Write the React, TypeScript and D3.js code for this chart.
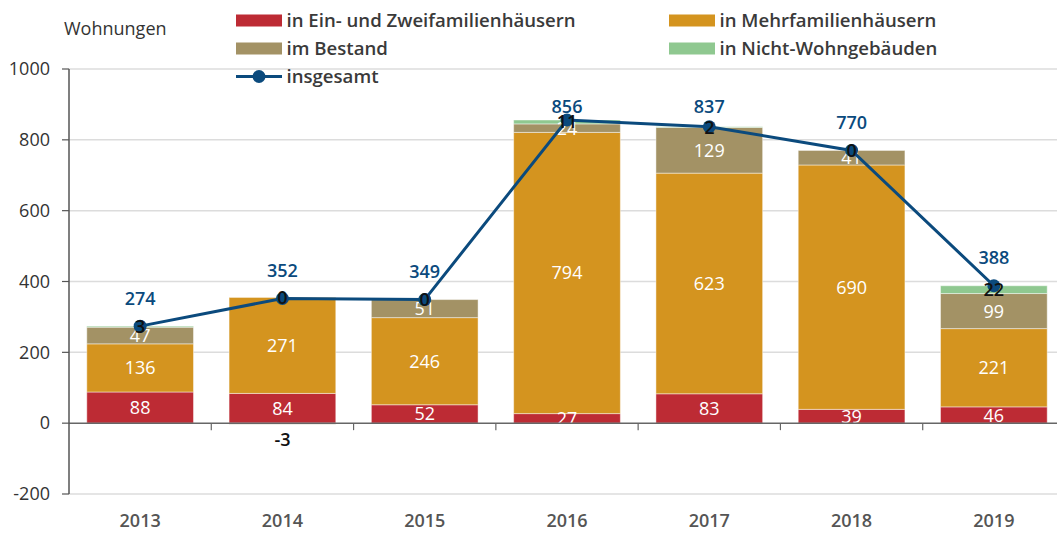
import React from "react";
import * as d3 from "d3";

const years = ["2013", "2014", "2015", "2016", "2017", "2018", "2019"];
const einZwei = [88, 84, 52, 27, 83, 39, 46];
const mehr = [136, 271, 246, 794, 623, 690, 221];
const bestand = [47, -3, 51, 24, 129, 41, 99];
const nichtWohn = [3, 0, 0, 11, 2, 0, 22];
const insgesamt = [274, 352, 349, 856, 837, 770, 388];
const yTicks = [-200, 0, 200, 400, 600, 800, 1000];

const seriesKeys = ["einZwei", "mehr", "bestand", "nichtWohn"];
const seriesNames = [
  "in Ein- und Zweifamilienhäusern",
  "in Mehrfamilienhäusern",
  "im Bestand",
  "in Nicht-Wohngebäuden",
];
const colors = ["#bd2b34", "#d4941f", "#a39265", "#8fc890"];
const lineColor = "#0b4a7d";
const font = "'Open Sans', 'DejaVu Sans', sans-serif";

const W = 1057;
const H = 534;
const left = 69;
const x = d3.scaleBand<string>().domain(years).range([left, 1065]).paddingInner(0.25).paddingOuter(0.125);
const y = d3.scaleLinear().domain([-200, 1000]).range([494, 69]);

export default function App() {
  const rows = years.map((yr, i) => ({
    year: yr,
    einZwei: einZwei[i],
    mehr: mehr[i],
    bestand: bestand[i],
    nichtWohn: nichtWohn[i],
  }));
  const stacked = d3
    .stack<any>()
    .keys(seriesKeys)
    .offset(d3.stackOffsetDiverging)(rows);

  const cx = (yr: string) => (x(yr) as number) + x.bandwidth() / 2;
  const line = d3
    .line<number>()
    .x((_, i) => cx(years[i]))
    .y((v) => y(v));

  // top of the positive part of the stack (below the green segment)
  const posBase = rows.map((r) =>
    [r.einZwei, r.mehr, r.bestand].reduce((a, v) => a + Math.max(0, v), 0)
  );

  const legendItems = [
    { i: 0, lx: 236, ly: 20.5 },
    { i: 2, lx: 236, ly: 48.5 },
    { i: 1, lx: 669, ly: 20.5 },
    { i: 3, lx: 669, ly: 48.5 },
  ];

  return (
    <svg
      width={W}
      height={H}
      style={{ position: "absolute", left: 0, top: 0, background: "#fff" }}
      fontFamily={font}
    >
      {/* grid */}
      {yTicks.map((t) =>
        t === 0 ? null : (
          <line key={t} x1={left} x2={W} y1={y(t)} y2={y(t)} stroke="#dcdcdc" strokeWidth={1.5} />
        )
      )}
      {yTicks.map((t) => (
        <g key={"t" + t}>
          <line x1={62} x2={left} y1={y(t)} y2={y(t)} stroke="#555" strokeWidth={1.2} />
          <text x={50} y={y(t)} dy="0.35em" textAnchor="end" fontSize={18} fill="#333">
            {t}
          </text>
        </g>
      ))}
      <text x={64} y={35} fontSize={18} fill="#333">
        Wohnungen
      </text>

      {/* bars */}
      {stacked.map((s, si) =>
        s.map((d, i) => (
          <rect
            key={si + "-" + i}
            x={x(years[i])}
            width={x.bandwidth()}
            y={y(Math.max(d[0], d[1]))}
            height={Math.abs(y(d[0]) - y(d[1]))}
            fill={colors[si]}
            stroke="rgba(255,255,255,0.45)"
            strokeWidth={1}
          />
        ))
      )}

      {/* segment labels (non-green) */}
      {stacked.slice(0, 3).map((s, si) =>
        s.map((d, i) => {
          const v = (rows[i] as any)[seriesKeys[si]] as number;
          let ly = y((d[0] + d[1]) / 2);
          let fill = "#fff";
          let weight = 500;
          if (v < 0) {
            ly = y(Math.min(d[0], d[1])) + 15;
            fill = "#111";
            weight = 600;
          }
          return (
            <text
              key={"l" + si + "-" + i}
              x={cx(years[i])}
              y={ly}
              dy="0.36em"
              textAnchor="middle"
              fontSize={18}
              fontWeight={weight}
              fill={fill}
            >
              {v}
            </text>
          );
        })
      )}

      {/* zero axis */}
      <line x1={left} x2={W} y1={y(0)} y2={y(0)} stroke="#666" strokeWidth={1.5} />
      {years.slice(1).map((yr) => {
        const bx = (x(yr) as number) - (x.step() * x.paddingInner()) / 2;
        return <line key={"xt" + yr} x1={bx} x2={bx} y1={y(0)} y2={y(0) + 7} stroke="#666" strokeWidth={1.2} />;
      })}
      <line x1={left} x2={left} y1={y(1000)} y2={y(-200)} stroke="#555" strokeWidth={1.5} />

      {/* line */}
      <path d={line(insgesamt) || ""} fill="none" stroke={lineColor} strokeWidth={3} />
      {insgesamt.map((v, i) => (
        <circle key={"c" + i} cx={cx(years[i])} cy={y(v)} r={6.5} fill={lineColor} />
      ))}
      {/* green labels on top of markers */}
      {nichtWohn.map((v, i) => (
        <text
          key={"g" + i}
          x={cx(years[i])}
          y={y(posBase[i] + v / 2)}
          dy="0.36em"
          textAnchor="middle"
          fontSize={18}
          fontWeight={600}
          fill="#111"
        >
          {v}
        </text>
      ))}
      {insgesamt.map((v, i) => (
        <text
          key={"tot" + i}
          x={cx(years[i])}
          y={Math.max(y(v) - 28, y(895))}
          dy="0.36em"
          textAnchor="middle"
          fontSize={18}
          fontWeight={600}
          fill={lineColor}
        >
          {v}
        </text>
      ))}

      {/* x labels */}
      {years.map((yr) => (
        <text key={"x" + yr} x={cx(yr)} y={521} dy="0.36em" textAnchor="middle" fontSize={18} fontWeight={600} fill="#555">
          {yr}
        </text>
      ))}

      {/* legend */}
      {legendItems.map(({ i, lx, ly }) => (
        <g key={"lg" + i}>
          <rect x={lx} y={ly - 6} width={46} height={12} fill={colors[i]} />
          <text x={lx + 50.5} y={ly} dy="0.36em" fontSize={18.6} fontWeight={600} fill="#3a3a3a">
            {seriesNames[i]}
          </text>
        </g>
      ))}
      <g>
        <line x1={236} x2={282} y1={76.5} y2={76.5} stroke={lineColor} strokeWidth={3} />
        <circle cx={259} cy={76.5} r={6.5} fill={lineColor} />
        <text x={286.5} y={76.5} dy="0.36em" fontSize={18.6} fontWeight={600} fill="#3a3a3a">
          insgesamt
        </text>
      </g>
    </svg>
  );
}
